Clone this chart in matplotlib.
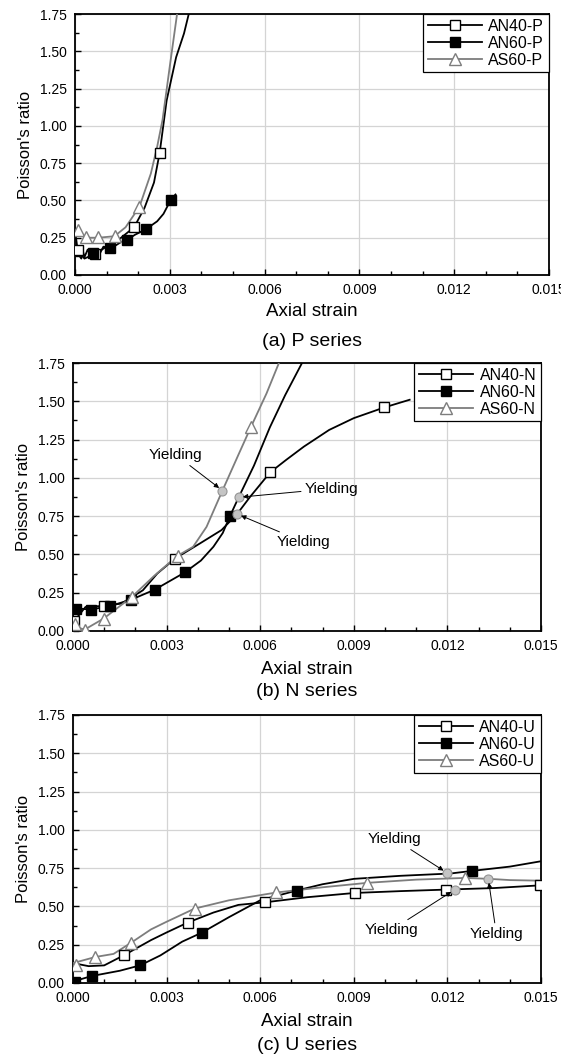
import matplotlib
matplotlib.use("Agg")
import matplotlib.pyplot as plt
from matplotlib.lines import Line2D
from matplotlib.ticker import MultipleLocator, FormatStrFormatter

# ---------------- (a) P series ----------------
p_an40_x = [0.00005, 0.0003, 0.00062, 0.001, 0.0014, 0.00187, 0.0022, 0.0025, 0.00268, 0.0029, 0.0032, 0.00345, 0.0036]
p_an40_y = [0.17, 0.11, 0.141, 0.19, 0.24, 0.32, 0.45, 0.62, 0.82, 1.17, 1.46, 1.62, 1.75]
p_an40_mx = [0.00009, 0.00062, 0.00187, 0.00268]
p_an40_my = [0.168, 0.141, 0.32, 0.82]

p_an60_x = [0.00002, 0.0001, 0.0002, 0.00025, 0.0003, 0.0004, 0.0005, 0.00057, 0.0007, 0.0008, 0.0009,
            0.00111, 0.0013, 0.00145, 0.00164, 0.0019, 0.00224, 0.0026, 0.0028, 0.00303, 0.00318]
p_an60_y = [0.27, 0.14, 0.11, 0.16, 0.12, 0.17, 0.13, 0.145, 0.17, 0.15, 0.19,
            0.179, 0.2, 0.22, 0.235, 0.27, 0.306, 0.36, 0.41, 0.503, 0.54]
p_an60_mx = [0.00057, 0.00111, 0.00164, 0.00224, 0.00303]
p_an60_my = [0.145, 0.179, 0.235, 0.306, 0.503]

p_as60_x = [0.00005, 0.00034, 0.00074, 0.00125, 0.0016, 0.00204, 0.0024, 0.0026, 0.00277, 0.003, 0.00323]
p_as60_y = [0.30, 0.25, 0.25, 0.26, 0.32, 0.458, 0.68, 0.86, 1.04, 1.4, 1.75]
p_as60_mx = [0.00009, 0.00034, 0.00074, 0.00125, 0.00204]
p_as60_my = [0.302, 0.253, 0.253, 0.262, 0.458]

# ---------------- (b) N series ----------------
n_an40_x = [0.0, 0.00006, 0.0004, 0.00098, 0.00155, 0.00224, 0.0027, 0.00327, 0.00407, 0.00476, 0.00526,
            0.00568, 0.00632, 0.00683, 0.0074, 0.00821, 0.009, 0.00998, 0.01079]
n_an40_y = [0.048, 0.07, 0.157, 0.164, 0.179, 0.266, 0.375, 0.473, 0.572, 0.659, 0.764,
            0.877, 1.036, 1.117, 1.204, 1.313, 1.39, 1.46, 1.51]
n_an40_mx = [0.00003, 0.00098, 0.00327, 0.00632, 0.00998]
n_an40_my = [0.065, 0.164, 0.473, 1.036, 1.46]

n_an60_x = [0.0, 0.00057, 0.0012, 0.00187, 0.00262, 0.00358, 0.0041, 0.0045, 0.0048, 0.00503, 0.00531,
            0.0058, 0.00631, 0.0068, 0.00734]
n_an60_y = [0.15, 0.14, 0.164, 0.205, 0.27, 0.382, 0.46, 0.55, 0.64, 0.75, 0.873,
            1.08, 1.33, 1.54, 1.75]
n_an60_mx = [0.00011, 0.00057, 0.0012, 0.00187, 0.00262, 0.00358, 0.00503]
n_an60_my = [0.146, 0.14, 0.164, 0.205, 0.27, 0.382, 0.75]

n_as60_x = [0.0, 0.0002, 0.00037, 0.00098, 0.00189, 0.0026, 0.00335, 0.00385, 0.00428, 0.00479, 0.0053,
            0.0057, 0.0062, 0.0066]
n_as60_y = [0.06, 0.02, 0.009, 0.081, 0.223, 0.36, 0.491, 0.55, 0.68, 0.917, 1.15,
            1.331, 1.55, 1.75]
n_as60_mx = [0.00006, 0.00037, 0.00098, 0.00189, 0.00335, 0.0057]
n_as60_my = [0.048, 0.009, 0.081, 0.223, 0.491, 1.331]

n_yield_x = [0.00479, 0.00531, 0.00526]
n_yield_y = [0.917, 0.873, 0.764]

# ---------------- (c) U series ----------------
u_an40_x = [0.0, 0.0005, 0.001, 0.00163, 0.0025, 0.003, 0.00367, 0.0045, 0.0053, 0.00616, 0.0075,
            0.00903, 0.0105, 0.01197, 0.0135, 0.015]
u_an40_y = [0.13, 0.11, 0.115, 0.181, 0.28, 0.33, 0.394, 0.46, 0.51, 0.527, 0.56,
            0.588, 0.60, 0.61, 0.62, 0.638]
u_an40_mx = [0.00163, 0.00367, 0.00616, 0.00903, 0.01197, 0.01497]
u_an40_my = [0.181, 0.394, 0.527, 0.588, 0.61, 0.638]

u_an60_x = [0.0, 0.00061, 0.0015, 0.00215, 0.0028, 0.0035, 0.00413, 0.005, 0.006, 0.00717, 0.008,
            0.009, 0.0105, 0.0121, 0.01279, 0.014, 0.015]
u_an60_y = [0.01, 0.046, 0.08, 0.115, 0.18, 0.27, 0.329, 0.43, 0.54, 0.604, 0.645,
            0.68, 0.70, 0.715, 0.732, 0.76, 0.795]
u_an60_mx = [0.00006, 0.00061, 0.00215, 0.00413, 0.00717, 0.01279]
u_an60_my = [0.007, 0.046, 0.115, 0.329, 0.604, 0.732]

u_as60_x = [0.0, 0.00072, 0.0013, 0.00187, 0.0025, 0.003, 0.0039, 0.005, 0.00652, 0.008, 0.00943,
            0.011, 0.01256, 0.01335, 0.014, 0.015]
u_as60_y = [0.13, 0.17, 0.19, 0.264, 0.35, 0.40, 0.486, 0.54, 0.591, 0.625, 0.654,
            0.675, 0.686, 0.68, 0.672, 0.668]
u_as60_mx = [0.00011, 0.00072, 0.00187, 0.0039, 0.00652, 0.00943, 0.01256]
u_as60_my = [0.12, 0.17, 0.264, 0.486, 0.591, 0.654, 0.686]

u_yield_x = [0.01199, 0.01224, 0.01331]
u_yield_y = [0.719, 0.61, 0.682]

specimens = ["AN40", "AN60", "AS60"]
x_ticks = [0.0, 0.003, 0.006, 0.009, 0.012, 0.015]
y_ticks = [0.0, 0.25, 0.5, 0.75, 1.0, 1.25, 1.5, 1.75]

GRAY = "#7d7d7d"
styles = [
    dict(color="black", marker="s", mfc="white", mec="black", ms=7),
    dict(color="black", marker="s", mfc="black", mec="black", ms=7),
    dict(color=GRAY, marker="^", mfc="white", mec=GRAY, ms=8.5),
]

plt.rcParams["font.family"] = ["Liberation Sans", "DejaVu Sans"]

W, H = 561, 1059
fig = plt.figure(figsize=(W / 100, H / 100), dpi=100)


def px_axes(left, top, right, bottom):
    return fig.add_axes([left / W, 1 - bottom / H, (right - left) / W, (bottom - top) / H])


def draw_panel(ax, series, suffix, yields=None, notes=()):
    handles = []
    for (lx, ly, mx, my), st, name in zip(series, styles, specimens):
        ax.plot(lx, ly, color=st["color"], lw=1.3, zorder=3)
        ax.plot(mx, my, ls="none", marker=st["marker"], mfc=st["mfc"], mec=st["mec"],
                ms=st["ms"], mew=1.0, zorder=4)
        handles.append(Line2D([], [], color=st["color"], lw=1.3, marker=st["marker"],
                              mfc=st["mfc"], mec=st["mec"], ms=st["ms"], mew=1.0,
                              label=f"{name}-{suffix}"))
    if yields is not None:
        ax.plot(yields[0], yields[1], ls="none", marker="o", ms=6.5, mfc="#c4c4c4",
                mec="#949494", mew=0.8, zorder=5)
        for (tx, ty), (yx, yy) in zip(notes, zip(*yields)):
            ax.annotate("Yielding", xy=(yx, yy), xytext=(tx, ty), ha="center", va="center",
                        fontsize=11, zorder=6,
                        arrowprops=dict(arrowstyle="-|>", color="black", lw=0.7,
                                        mutation_scale=7, shrinkA=1, shrinkB=3))

    ax.set_xlim(0, 0.015)
    ax.set_ylim(0, 1.75)
    ax.set_xticks(x_ticks)
    ax.set_yticks(y_ticks)
    ax.xaxis.set_minor_locator(MultipleLocator(0.001))
    ax.yaxis.set_minor_locator(MultipleLocator(0.125))
    ax.xaxis.set_major_formatter(FormatStrFormatter("%.3f"))
    ax.yaxis.set_major_formatter(FormatStrFormatter("%.2f"))
    ax.tick_params(which="both", direction="in", top=False, right=False, labelsize=10,
                   width=1.0, colors="black")
    ax.tick_params(which="major", length=4, pad=6)
    ax.tick_params(which="minor", length=3)
    ax.grid(True, which="major", color="#d4d4d4", lw=0.9, zorder=0)
    ax.set_axisbelow(True)
    for sp in ax.spines.values():
        sp.set_linewidth(1.3)
        sp.set_color("black")
    ax.set_ylabel("Poisson's ratio", fontsize=12, labelpad=5)

    leg = ax.legend(handles=handles, loc="upper right", bbox_to_anchor=(1, 1),
                    borderaxespad=0, fontsize=11.5, handlelength=3.4, handletextpad=0.4,
                    labelspacing=0.12, borderpad=0.3, fancybox=False, framealpha=1,
                    edgecolor="black")
    leg.get_frame().set_linewidth(0.9)
    leg.set_zorder(10)


ax_a = px_axes(75, 14, 549, 275)
draw_panel(ax_a, [(p_an40_x, p_an40_y, p_an40_mx, p_an40_my),
                  (p_an60_x, p_an60_y, p_an60_mx, p_an60_my),
                  (p_as60_x, p_as60_y, p_as60_mx, p_as60_my)], "P")

ax_b = px_axes(73, 363, 541, 631)
draw_panel(ax_b, [(n_an40_x, n_an40_y, n_an40_mx, n_an40_my),
                  (n_an60_x, n_an60_y, n_an60_mx, n_an60_my),
                  (n_as60_x, n_as60_y, n_as60_mx, n_as60_my)], "N",
           yields=(n_yield_x, n_yield_y),
           notes=[(0.0033, 1.15), (0.0083, 0.93), (0.0074, 0.58)])

ax_c = px_axes(73, 715, 541, 983)
draw_panel(ax_c, [(u_an40_x, u_an40_y, u_an40_mx, u_an40_my),
                  (u_an60_x, u_an60_y, u_an60_mx, u_an60_my),
                  (u_as60_x, u_as60_y, u_as60_mx, u_as60_my)], "U",
           yields=(u_yield_x, u_yield_y),
           notes=[(0.0103, 0.94), (0.0102, 0.345), (0.01357, 0.32)])

# bottom labels and captions (pixel rows)
for ax, xl_row, cap_row, cap in [(ax_a, 312, 342, "(a) P series"),
                                 (ax_b, 669, 691, "(b) N series"),
                                 (ax_c, 1021, 1046, "(c) U series")]:
    pos = ax.get_position()
    xc = pos.x0 + pos.width / 2
    fig.text(xc, 1 - xl_row / H, "Axial strain", ha="center", va="center", fontsize=13.5)
    fig.text(xc, 1 - cap_row / H, cap, ha="center", va="center", fontsize=14)

fig.savefig("out.png", dpi=100)
